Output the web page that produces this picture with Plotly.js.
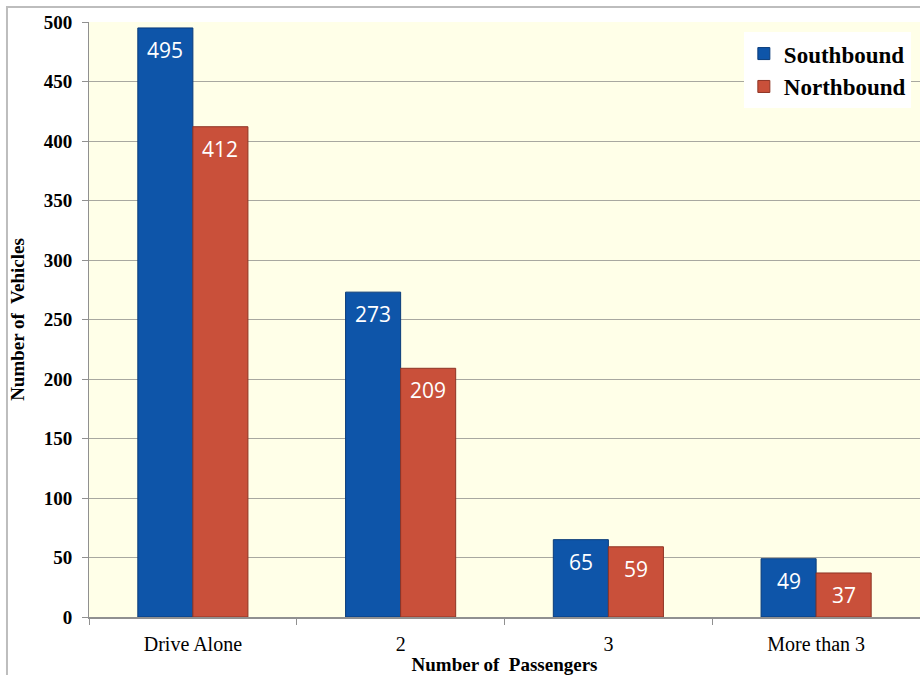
<!DOCTYPE html>
<html><head><meta charset="utf-8">
<script src="https://cdn.plot.ly/plotly-3.0.1.min.js"></script>
<style>html,body{margin:0;padding:0;background:#fff}#c{width:920px;height:675px}</style>
</head><body><div id="c"></div>
<script>
const categories = ["Drive Alone", "2", "3", "More than 3"];
const southbound = [495, 273, 65, 49];
const northbound = [412, 209, 59, 37];
const yTicks = [0, 50, 100, 150, 200, 250, 300, 350, 400, 450, 500];

const serif = "Liberation Serif";
const blue = "#0E55A9", red = "#C9503A";

const traces = [
  {type: "bar", name: "Southbound", x: categories, y: southbound,
   marker: {color: blue, line: {color: "#0A3C7A", width: 1}}, hoverinfo: "y"},
  {type: "bar", name: "Northbound", x: categories, y: northbound,
   marker: {color: red, line: {color: "#8E3424", width: 1}}, hoverinfo: "y"}
];

const off = 0.1325;
const lblFont = {family: "Open Sans", size: 21, color: "#fff"};
const annotations = [];
categories.forEach((c, i) => {
  annotations.push({x: i - off, y: southbound[i], xref: "x", yref: "y", text: String(southbound[i]),
    showarrow: false, yshift: -22, font: lblFont});
  annotations.push({x: i + off, y: northbound[i], xref: "x", yref: "y", text: String(northbound[i]),
    showarrow: false, yshift: -22, font: lblFont});
});

const layout = {
  width: 920, height: 675,
  margin: {l: 89, r: 0, t: 22, b: 58, pad: 0},
  paper_bgcolor: "#ffffff", plot_bgcolor: "#FFFFE8",
  barmode: "group", bargap: 0.47, bargroupgap: 0,
  showlegend: true,
  legend: {x: 0.989, y: 0.983, xanchor: "right", yanchor: "top", bgcolor: "#ffffff",
    font: {family: serif, size: 23, color: "#000", weight: "bold"}, itemwidth: 30, tracegroupgap: 4},
  xaxis: {type: "category", showgrid: false, showline: true, linecolor: "#909090", linewidth: 2,
    ticks: "outside", tickson: "boundaries", ticklen: 6, tickcolor: "#909090",
    tickfont: {family: serif, size: 20, color: "#000"}, ticklabelstandoff: 8,
    title: {text: "Number of  Passengers", font: {family: serif, size: 19, color: "#000", weight: "bold"}, standoff: 6}},
  yaxis: {range: [0, 500], tickvals: yTicks, showgrid: true, gridcolor: "#A8A8A0", gridwidth: 1,
    showline: true, linecolor: "#909090", linewidth: 1, ticks: "outside", ticklen: 6, tickcolor: "#909090",
    zeroline: false, tickfont: {family: serif, size: 19, color: "#000", weight: "bold"}, ticklabelstandoff: 6,
    title: {text: "Number of  Vehicles", font: {family: serif, size: 19, color: "#000", weight: "bold"}, standoff: 14}},
  annotations: annotations,
  shapes: [{type: "path", xref: "paper", yref: "paper",
    path: "M -0.0987 -0.12 L -0.0987 1.0252 L 1.05 1.0252",
    line: {color: "#BDBDBD", width: 2}}]
};

Plotly.newPlot("c", traces, layout, {displayModeBar: false, staticPlot: true});
</script></body></html>
